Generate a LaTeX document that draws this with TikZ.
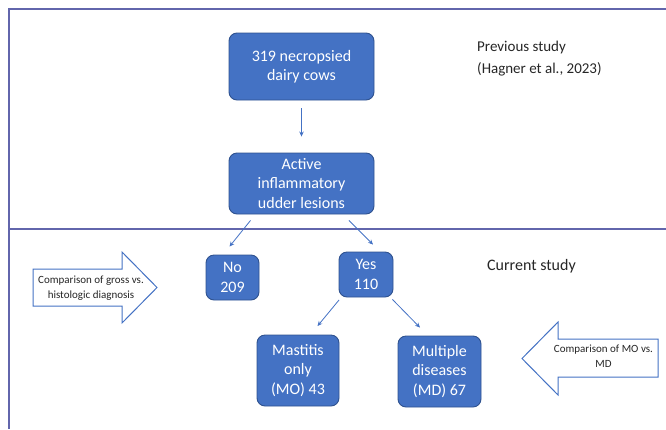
\documentclass[tikz,border=0pt]{standalone}
\usepackage{fontspec}
\setmainfont{Carlito}
\usetikzlibrary{arrows.meta}

\definecolor{boxblue}{HTML}{4472C4}
\definecolor{boxedge}{HTML}{2F528F}
\definecolor{framecol}{RGB}{98,102,172}
\definecolor{textgrey}{HTML}{262626}

\begin{document}
\begin{tikzpicture}[x=1pt, y=-1pt,
  box/.style={draw=boxedge, line width=0.9pt, fill=boxblue, rounded corners=8pt,
    text=white, align=center, inner sep=0pt,
    font=\fontsize{16}{19.5}\selectfont},
  flow/.style={draw=boxblue, line width=0.8pt, -{Stealth[length=5pt,width=4.5pt]}},
  compare/.style={draw=boxblue, line width=1pt, fill=white, line join=miter},
  note/.style={text=textgrey, align=center, inner sep=0pt, font=\fontsize{11}{15}\selectfont},
  study/.style={text=textgrey, align=left, anchor=west, inner sep=0pt, font=\fontsize{15}{22}\selectfont}]

\useasboundingbox (0,0) rectangle (666,429);

% frame of the two studies
\draw [framecol, line width=1.5pt] (666,9) -- (9,9) -- (9,429);
\draw [framecol, line width=1.5pt] (9,229) -- (666,229);

% boxes
\node [box, minimum width=145pt, minimum height=67pt] (cows) at (301.5,66.5) {319 necropsied\\dairy cows};
\node [box, minimum width=145pt, minimum height=61pt] (lesions) at (301.5,183.5) {Active\\inflammatory\\udder lesions};
\node [box, minimum width=53pt, minimum height=45pt] (no) at (232.5,277.5) {No\\209};
\node [box, minimum width=54pt, minimum height=45pt] (yes) at (366,274.5) {Yes\\110};
\node [box, minimum width=82pt, minimum height=71pt] (mastitis) at (298,370.5) {Mastitis\\only\\(MO) 43};
\node [box, minimum width=83pt, minimum height=71pt] (multiple) at (439.5,371.5) {Multiple\\diseases\\(MD) 67};

% connectors
\draw [flow, shorten <=8pt, shorten >=16pt] (cows) -- (lesions);
\draw [flow] ([xshift=-51pt, yshift=-6pt]lesions.south) -- ([xshift=-3pt, yshift=8pt]no.north);
\draw [flow] ([xshift=47.5pt, yshift=-6pt]lesions.south) -- ([xshift=7pt, yshift=7pt]yes.north);
\draw [flow] ([xshift=0.5pt, yshift=-2.5pt]yes.south west) -- ([xshift=19.5pt, yshift=8.5pt]mastitis.north);
\draw [flow] ([xshift=-1pt, yshift=-2pt]yes.south east) -- ([xshift=-19.5pt, yshift=8pt]multiple.north);

% block arrows
\draw [compare] (33,269) -- (122,269) -- (122,252) -- (157,287.5) -- (122,323) -- (122,306) -- (33,306) -- cycle;
\node [note] (gross) at (91,288) {Comparison of gross vs.\\histologic diagnosis};

\draw [compare] (658,339) -- (558,339) -- (558,322) -- (522,358.5) -- (558,395) -- (558,377) -- (658,377) -- cycle;
\node [note] (movsmd) at (603.5,356) {Comparison of MO vs.\\MD};

% study labels
\node [study] (previous) at (477,59) {Previous study\\(Hagner et al., 2023)};
\node [study, font=\fontsize{16}{22}\selectfont] (current) at (487,266) {Current study};

\end{tikzpicture}
\end{document}
